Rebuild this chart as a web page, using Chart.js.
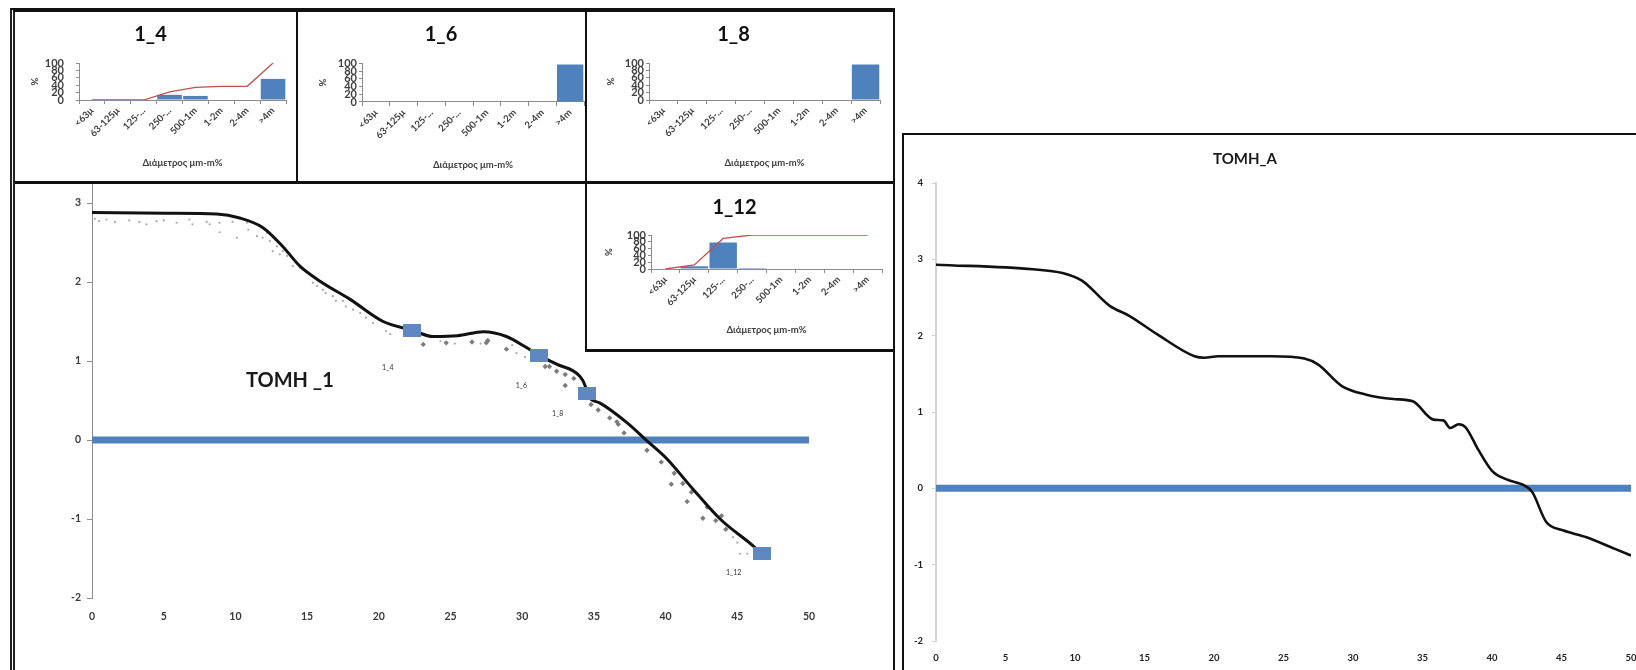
<!DOCTYPE html>
<html>
<head>
<meta charset="utf-8">
<script src="https://cdn.jsdelivr.net/npm/chart.js@4.4.1/dist/chart.umd.min.js"></script>
<style>
  html, body { margin: 0; padding: 0; background: #fff; width: 1636px; height: 670px; overflow: hidden; }
  .abs { position: absolute; box-sizing: border-box; }
  canvas { display: block; }
  #leftFrame { left: 10px; top: 8px; width: 885px; height: 700px; border-top: 4px solid #111; border-left: 5px double #222; border-right: 2px solid #111; }
  #mainCanvas { position: absolute; left: 15px; top: 12px; }
  .box { background: #fff; }
  #box14 { left: 15px; top: 12px; width: 283px; height: 172px; border-right: 2px solid #111; border-bottom: 3px solid #111; }
  #box16 { left: 298px; top: 12px; width: 289px; height: 172px; border-right: 2px solid #111; border-bottom: 3px solid #111; }
  #box18 { left: 587px; top: 12px; width: 306px; height: 172px; border-bottom: 3px solid #111; }
  #box112 { left: 585px; top: 184px; width: 308px; height: 168px; border-left: 2px solid #111; border-bottom: 3px solid #111; }
  #rightBox { left: 902px; top: 133px; width: 800px; height: 600px; border-top: 2px solid #111; border-left: 2px solid #111; background: #fff; }
</style>
</head>
<body>
<div id="leftFrame" class="abs"></div>
<canvas id="mainCanvas" width="877" height="658"></canvas>
<div id="box14" class="abs box"><canvas id="c14" width="281" height="169"></canvas></div>
<div id="box16" class="abs box"><canvas id="c16" width="287" height="169"></canvas></div>
<div id="box18" class="abs box"><canvas id="c18" width="306" height="169"></canvas></div>
<div id="box112" class="abs box"><canvas id="c112" width="306" height="165"></canvas></div>
<div id="rightBox" class="abs"><canvas id="cRight" width="732" height="535"></canvas></div>

<script>
// ---- grain-size classes shared by the sample charts ----
const sizeClasses = ['<63μ', '63-125μ', '125-...', '250-...', '500-1m', '1-2m', '2-4m', '>4m'];

// sample 1_4
const frac14 = [0, 0, 0, 14, 11, 0, 0, 57];
const cum14  = [0, 0, 0, 22, 34, 37, 37, 100];
// sample 1_6
const frac16 = [0, 0, 0, 0, 0, 0, 0, 97];
// sample 1_8
const frac18 = [0, 0, 0, 0, 0, 0, 0, 96];
// sample 1_12
const frac112 = [0, 8, 78, 3, 0, 0, 0, 0];
const cum112  = [0, 12, 90, 100, 100, 100, 100, 100];

// ---- profile TOMH_1 (distance m, elevation m) ----
const profileX = [0, 5.2, 8.7, 10.3, 11.9, 13.3, 14.5, 15.9, 18.0, 20.3, 22.3, 23.8, 25.5, 27.3, 28.9, 30.3, 31.2, 32.4, 34.0, 34.4, 34.5, 35.4, 37.3, 38.7, 40.1, 41.9, 43.8, 46.1, 46.7];
const profileY = [2.88, 2.87, 2.86, 2.81, 2.69, 2.45, 2.20, 2.01, 1.78, 1.50, 1.39, 1.31, 1.32, 1.37, 1.31, 1.17, 1.07, 0.96, 0.81, 0.68, 0.59, 0.47, 0.22, -0.01, -0.24, -0.62, -1.00, -1.34, -1.44];

// earlier survey, light dotted readings
const dotsX = [0.2, 0.5, 1.0, 1.6, 2.6, 3.3, 3.8, 4.5, 5.0, 5.9, 6.8, 7.0, 8.0, 8.2, 8.9, 8.9, 9.8, 10.1, 10.8, 10.9, 11.5, 11.7, 11.9, 12.2, 12.4, 12.6, 12.9, 13.1, 13.3, 13.6, 14.0, 14.5, 15.0, 15.4, 15.7, 16.1, 16.3, 16.8, 17.0, 17.5, 17.7, 18.2, 18.7, 19.1, 19.6, 20.5, 20.8, 24.3, 25.3, 27.1, 29.3, 29.6, 30.2, 44.7, 45.0, 45.2, 45.7];
const dotsY = [2.80, 2.77, 2.79, 2.76, 2.78, 2.76, 2.73, 2.77, 2.78, 2.75, 2.79, 2.73, 2.76, 2.73, 2.63, 2.75, 2.76, 2.56, 2.75, 2.66, 2.58, 2.71, 2.56, 2.62, 2.52, 2.39, 2.45, 2.35, 2.39, 2.33, 2.20, 2.18, 2.12, 1.99, 1.95, 1.90, 1.86, 1.82, 1.76, 1.76, 1.69, 1.65, 1.61, 1.55, 1.48, 1.38, 1.34, 1.25, 1.22, 1.22, 1.20, 1.10, 1.05, -1.23, -1.30, -1.44, -1.44];

// earlier survey, diamond readings
const diamX = [23.1, 24.7, 26.5, 27.5, 27.6, 28.9, 31.6, 31.9, 32.4, 33.0, 33.6, 33.0, 34.8, 35.3, 36.1, 36.6, 36.7, 37.1, 38.7, 39.7, 40.6, 40.4, 41.2, 41.8, 41.5, 42.9, 42.6, 43.5, 43.9, 44.2];
const diamY = [1.21, 1.23, 1.24, 1.23, 1.26, 1.15, 0.93, 0.93, 0.87, 0.83, 0.78, 0.69, 0.45, 0.38, 0.28, 0.23, 0.20, 0.09, -0.13, -0.28, -0.42, -0.56, -0.55, -0.66, -0.78, -0.85, -0.99, -1.02, -0.96, -1.13];

// sampling stations along TOMH_1
const sampleNames = ['1_4', '1_6', '1_8', '1_12'];
const sampleX = [22.3, 31.2, 34.5, 46.7];
const sampleY = [1.39, 1.07, 0.59, -1.44];

// sea level reference
const seaX = [0, 50];
const seaY = [0, 0];

// ---- profile TOMH_A ----
const profileAX = [0, 7, 9.1, 10.5, 12.5, 13.9, 15.9, 18.6, 19.3, 20.3, 24.1, 26.5, 27.5, 29.2, 30.9, 32.9, 34.3, 35.8, 36.5, 37.0, 37.6, 38.1, 39.0, 40.0, 41.0, 42.4, 42.9, 43.9, 45.1, 46.8, 48.8, 50];
const profileAY = [2.93, 2.87, 2.82, 2.72, 2.39, 2.26, 2.02, 1.73, 1.71, 1.73, 1.73, 1.70, 1.62, 1.34, 1.23, 1.17, 1.14, 0.90, 0.89, 0.79, 0.84, 0.80, 0.51, 0.23, 0.12, 0.03, -0.05, -0.44, -0.55, -0.64, -0.79, -0.88];

// axis tick ranges
const elevTicks = { min: -2, max: 4, step: 1 };
const distTicks = { min: 0, max: 50, step: 5 };
const pctTicks = { min: 0, max: 100, step: 20 };

// ---------------------------------------------------------------
const FONT = 'Lato, "Open Sans", sans-serif';
const BLUE = '#4f81bd';
const AXIS_GRAY = '#8c8c8c';
Chart.defaults.font.family = FONT;
Chart.defaults.color = '#404040';

const pts = (xs, ys) => xs.map((x, i) => ({ x: x, y: ys[i] }));

// Text drawn at a fixed canvas spot or at data coordinates
function captionPlugin(items) {
  return {
    id: 'captions',
    afterDraw(chart) {
      const ctx = chart.ctx;
      items.forEach(it => {
        let x = it.px, y = it.py;
        if (it.at) {
          x = chart.scales.x.getPixelForValue(it.at[0]);
          y = chart.scales.y.getPixelForValue(it.at[1]);
        }
        ctx.save();
        ctx.font = it.font;
        ctx.fillStyle = it.color;
        ctx.textAlign = 'center';
        ctx.textBaseline = 'middle';
        ctx.fillText(it.text, x, y);
        ctx.restore();
      });
    }
  };
}

// Names next to the sampling-station markers
function stationLabelPlugin(datasetIndex, labels, offsets, font, color) {
  return {
    id: 'stationLabels',
    afterDatasetsDraw(chart) {
      const meta = chart.getDatasetMeta(datasetIndex);
      const ctx = chart.ctx;
      ctx.save();
      ctx.font = font;
      ctx.fillStyle = color;
      ctx.textAlign = 'center';
      ctx.textBaseline = 'middle';
      meta.data.forEach((el, i) => {
        ctx.fillText(labels[i], el.x + offsets[i][0], el.y + offsets[i][1]);
      });
      ctx.restore();
    }
  };
}

// rectangular station marker
const stationMarker = document.createElement('canvas');
stationMarker.width = 18;
stationMarker.height = 13;
(function () {
  const c = stationMarker.getContext('2d');
  c.fillStyle = '#5f88c2';
  c.fillRect(0, 0, 18, 13);
})();

// ---------------- TOMH_1 ----------------
new Chart(document.getElementById('mainCanvas'), {
  type: 'line',
  data: {
    datasets: [
      { label: 'sea', data: pts(seaX, seaY), borderColor: BLUE, borderWidth: 7, pointRadius: 0, order: 5 },
      { label: 'dots', data: pts(dotsX, dotsY), showLine: false, pointRadius: 1.1, pointBackgroundColor: '#a8a8a8', pointBorderWidth: 0, order: 4 },
      { label: 'diamonds', data: pts(diamX, diamY), showLine: false, pointStyle: 'rectRot', pointRadius: 2.7, pointBackgroundColor: '#7d7d7d', pointBorderWidth: 0, order: 3 },
      { label: 'profile', data: pts(profileX, profileY), borderColor: '#111', borderWidth: 3, pointRadius: 0, cubicInterpolationMode: 'monotone', order: 2 },
      { label: 'stations', data: pts(sampleX, sampleY), showLine: false, pointStyle: stationMarker, pointRadius: 9, order: 1 }
    ]
  },
  plugins: [
    captionPlugin([{ text: 'TOMH _1', at: [13.8, 0.75], font: 'bold 20px ' + FONT, color: '#1a1a1a' }]),
    stationLabelPlugin(4, sampleNames, [[-24, 38], [-18, 30], [-29, 20], [-28, 19]], '7px ' + FONT, '#333')
  ],
  options: {
    responsive: false,
    animation: false,
    events: [],
    layout: { padding: { top: 112, right: 83, left: 0, bottom: 0 } },
    plugins: { legend: { display: false }, tooltip: { enabled: false } },
    scales: {
      x: {
        type: 'linear', min: distTicks.min, max: distTicks.max,
        ticks: { stepSize: distTicks.step, padding: 12, font: { size: 10.5, weight: 'bold' }, color: '#3a3a3a' },
        grid: { display: false, drawTicks: false }, border: { display: false },
        afterFit: s => { s.height = 72; }
      },
      y: {
        min: elevTicks.min, max: elevTicks.max,
        ticks: { stepSize: elevTicks.step, padding: 6, font: { size: 10.5, weight: 'bold' }, color: '#3a3a3a' },
        grid: { drawOnChartArea: false, tickLength: 5, color: AXIS_GRAY },
        border: { color: AXIS_GRAY, width: 1 },
        afterFit: s => { s.width = 77; }
      }
    }
  }
});

// ---------------- grain-size charts ----------------
function sizeChart(id, title, fractions, cumulative, g) {
  const datasets = [{
    type: 'bar', data: fractions, backgroundColor: BLUE,
    barPercentage: 0.95, categoryPercentage: 1, order: 2
  }];
  if (cumulative) {
    datasets.push({ type: 'line', data: cumulative, borderColor: '#c0504d', borderWidth: 1.3, pointRadius: 0, tension: 0, order: 1 });
  }
  const tickFont = { size: 9.5, weight: 'bold' };
  return new Chart(document.getElementById(id), {
    type: 'bar',
    data: { labels: sizeClasses, datasets: datasets },
    options: {
      responsive: false,
      animation: false,
      events: [],
      layout: { padding: { left: 0, top: 0, right: g.padRight, bottom: 0 } },
      plugins: {
        legend: { display: false },
        tooltip: { enabled: false },
        title: {
          display: true, text: title, color: '#111',
          font: { size: 20, weight: 'bold' },
          padding: { top: g.titleTop, bottom: g.titleBottom }
        }
      },
      scales: {
        x: {
          offset: true,
          grid: { drawOnChartArea: false, offset: true, tickLength: 4, color: AXIS_GRAY },
          border: { color: AXIS_GRAY },
          ticks: { autoSkip: false, minRotation: 45, maxRotation: 45, padding: 1, font: tickFont, color: '#404040' },
          title: { display: true, text: 'Διάμετρος μm-m%', font: tickFont, color: '#404040', padding: { top: 2, bottom: g.xTitleBottom } },
          afterFit: s => { s.height = g.xHeight; s.paddingLeft = 0; s.paddingRight = 0; }
        },
        y: {
          min: pctTicks.min, max: pctTicks.max,
          ticks: { stepSize: pctTicks.step, autoSkip: false, padding: g.yLabelPad, font: { size: 11, weight: 'bold' }, color: '#404040' },
          grid: { drawOnChartArea: false, tickLength: 3, color: AXIS_GRAY },
          border: { color: AXIS_GRAY },
          title: { display: true, text: '%', font: tickFont, color: '#404040', padding: { top: g.yTitlePad, bottom: 0 } },
          afterFit: s => { s.width = g.yWidth; s.paddingTop = 0; s.paddingBottom = 0; }
        }
      }
    }
  });
}

sizeChart('c14', '1_4', frac14, cum14, { yWidth: 64, padRight: 10, xHeight: 81, titleTop: 11, titleBottom: 16, xTitleBottom: 12, yTitlePad: 14, yLabelPad: 12 });
sizeChart('c16', '1_6', frac16, null, { yWidth: 64, padRight: 1, xHeight: 79, titleTop: 11, titleBottom: 16.3, xTitleBottom: 10, yTitlePad: 19, yLabelPad: 2 });
sizeChart('c18', '1_8', frac18, null, { yWidth: 62, padRight: 13, xHeight: 81, titleTop: 11, titleBottom: 16, xTitleBottom: 12, yTitlePad: 18, yLabelPad: 2 });
sizeChart('c112', '1_12', frac112, cum112, { yWidth: 64, padRight: 11, xHeight: 80, titleTop: 12, titleBottom: 15, xTitleBottom: 13, yTitlePad: 16, yLabelPad: 2 });

// ---------------- TOMH_A ----------------
new Chart(document.getElementById('cRight'), {
  type: 'line',
  data: {
    datasets: [
      { label: 'sea', data: pts(seaX, seaY), borderColor: BLUE, borderWidth: 7, pointRadius: 0, order: 2 },
      { label: 'profile', data: pts(profileAX, profileAY), borderColor: '#111', borderWidth: 2.6, pointRadius: 0, cubicInterpolationMode: 'monotone', order: 1 }
    ]
  },
  plugins: [
    captionPlugin([{ text: 'TOMH_A', px: 341, py: 24, font: 'bold 15px ' + FONT, color: '#1a1a1a' }])
  ],
  options: {
    responsive: false,
    animation: false,
    events: [],
    layout: { padding: { top: 48, right: 5, left: 0, bottom: 0 } },
    plugins: { legend: { display: false }, tooltip: { enabled: false } },
    scales: {
      x: {
        type: 'linear', min: distTicks.min, max: distTicks.max,
        ticks: { stepSize: distTicks.step, padding: 11, font: { size: 9.5, weight: 'bold' }, color: '#222' },
        grid: { display: false, drawTicks: false }, border: { display: false },
        afterFit: s => { s.height = 29; s.paddingRight = 0; }
      },
      y: {
        min: elevTicks.min, max: elevTicks.max,
        ticks: { stepSize: elevTicks.step, padding: 9, font: { size: 9.5, weight: 'bold' }, color: '#222' },
        grid: { drawOnChartArea: false, tickLength: 4, color: '#cfcfcf' },
        border: { color: '#d4d4d4', width: 2 },
        afterFit: s => { s.width = 32; }
      }
    }
  }
});
</script>
</body>
</html>
